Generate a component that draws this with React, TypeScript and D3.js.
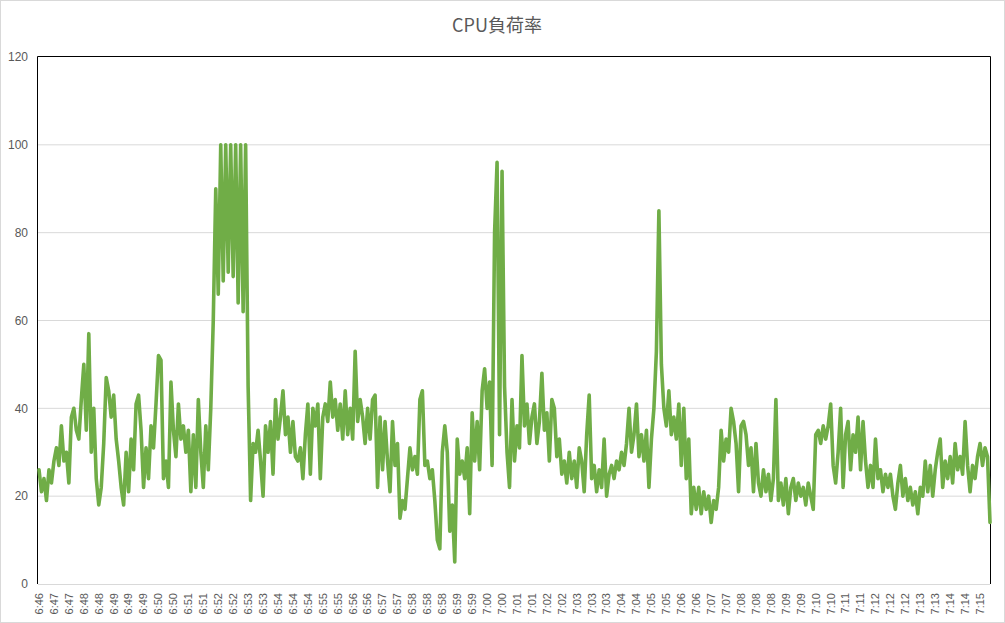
import React from "react";
import * as d3 from "d3";

const chartTitle = "CPU負荷率";

const yTicks = [0, 20, 40, 60, 80, 100, 120];

const tickLabels = [
  "6:46", "6:47", "6:47", "6:48", "6:48", "6:49", "6:49", "6:49", "6:50", "6:50",
  "6:51", "6:51", "6:52", "6:52", "6:53", "6:53", "6:54", "6:54", "6:54", "6:55",
  "6:55", "6:56", "6:56", "6:57", "6:57", "6:58", "6:58", "6:58", "6:59", "6:59",
  "7:00", "7:00", "7:01", "7:01", "7:02", "7:02", "7:03", "7:03", "7:03", "7:04",
  "7:04", "7:05", "7:05", "7:06", "7:06", "7:07", "7:07", "7:08", "7:08", "7:08",
  "7:09", "7:09", "7:10", "7:10", "7:11", "7:11", "7:12", "7:12", "7:12", "7:13",
  "7:13", "7:14", "7:14", "7:15",
];

const cpuLoad = [
  // 6:46 - 6:51
  26, 21, 24, 19, 26, 23, 28, 31, 27, 36,
  28, 30, 23, 38, 40, 35, 33, 42, 50, 35,
  57, 30, 40, 24, 18, 22, 32, 47, 44, 38,
  43, 33, 28, 22, 18, 30, 21, 33, 26, 41,
  43, 35, 22, 31, 24, 36, 31, 41, 52, 51,
  24, 28, 22, 46, 35, 29, 41, 33, 36, 30,
  35, 21, 34, 22, 42,
  // 6:51 - 6:56
  30, 22, 36, 26, 40, 60, 90, 66, 100, 69,
  100, 71, 100, 70, 100, 64, 100, 62, 100, 45,
  19, 32, 30, 35, 28, 20, 36, 30, 37, 25,
  42, 33, 38, 44, 34, 38, 30, 37, 29, 28,
  31, 24, 34, 41, 25, 40, 36, 41, 24, 38,
  41, 37, 46, 38, 42, 35, 41, 33, 44, 34,
  40, 33, 53, 37, 42,
  // 6:56 - 7:01
  38, 32, 40, 33, 42, 43, 22, 38, 26, 37,
  28, 21, 37, 27, 32, 15, 19, 17, 24, 31,
  26, 29, 25, 42, 44, 27, 28, 24, 26, 19,
  10, 8, 30, 36, 30, 12, 18, 5, 33, 25,
  28, 24, 31, 16, 39, 28, 37, 26, 44, 49,
  40, 46, 27, 80, 96, 34, 94, 45, 30, 22,
  42, 28, 36, 31,
  // 7:01 - 7:06
  52, 36, 41, 32, 38, 41, 32, 37, 48, 35,
  39, 28, 42, 40, 29, 33, 25, 28, 23, 30,
  24, 28, 22, 31, 28, 21, 34, 43, 24, 27,
  21, 26, 22, 33, 20, 25, 27, 24, 28, 26,
  30, 27, 32, 40, 30, 34, 41, 29, 34, 28,
  35, 22, 33, 40, 53, 85, 50, 40, 36, 44,
  34, 38, 33, 41, 27,
  // 7:06 - 7:11
  40, 24, 33, 16, 22, 17, 22, 16, 21, 17,
  20, 14, 19, 17, 22, 35, 28, 33, 30, 40,
  37, 32, 21, 36, 37, 34, 27, 31, 21, 32,
  23, 20, 26, 21, 25, 19, 24, 42, 19, 23,
  18, 24, 16, 22, 24, 19, 23, 20, 22, 18,
  23, 20, 17, 34, 35, 32, 36, 33, 36, 41,
  27, 23, 30, 40,
  // 7:11 - 7:15
  22, 34, 37, 26, 34, 30, 38, 26, 37, 28,
  22, 27, 22, 33, 24, 26, 21, 25, 22, 25,
  20, 17, 23, 27, 20, 24, 19, 22, 18, 21,
  16, 22, 20, 28, 21, 27, 20, 26, 30, 33,
  22, 28, 24, 29, 23, 32, 26, 29, 25, 37,
  27, 21, 27, 24, 29, 32, 27, 31, 29, 14,
];

const POINTS_PER_LABEL = 6;

export default function App() {
  const W = 1005;
  const H = 623;
  const left = 39;
  const right = 990;
  const top = 57;
  const bottom = 584;

  const x = d3.scaleLinear().domain([0, cpuLoad.length - 1]).range([left, right]);
  const y = d3.scaleLinear().domain([0, 120]).range([bottom, top]);

  const line = d3
    .line<number>()
    .x((_, i) => x(i))
    .y((d) => y(d));

  const pathD = line(cpuLoad) || "";
  const textColor = "#595959";
  const axisFont = "'Liberation Sans', Arial, sans-serif";

  return (
    <svg
      width={W}
      height={H}
      style={{ position: "absolute", left: 0, top: 0, background: "#fff" }}
    >
      <rect x={0.5} y={0.5} width={W - 1} height={H - 1} fill="#fff" stroke="#D9D9D9" />
      <text
        x={497}
        y={32}
        textAnchor="middle"
        fontSize={18}
        fill={textColor}
        fontFamily="'Noto Sans CJK JP', 'Noto Sans', sans-serif"
      >
        {chartTitle}
      </text>

      {yTicks.map((t) => (
        <g key={t}>
          {t > 0 && t < 120 && (
            <line x1={left - 1} x2={right} y1={y(t)} y2={y(t)} stroke="#D9D9D9" strokeWidth={1} />
          )}
          <text
            x={28}
            y={y(t)}
            dy="0.35em"
            textAnchor="end"
            fontSize={12}
            fill={textColor}
            fontFamily={axisFont}
          >
            {t}
          </text>
        </g>
      ))}

      <line x1={left - 1} x2={right} y1={bottom + 0.5} y2={bottom + 0.5} stroke="#D9D9D9" strokeWidth={1} />
      <path
        d={`M${left - 1.5},${bottom} V${top - 0.5} H${right + 0.5} V${bottom}`}
        fill="none"
        stroke="#000"
        strokeWidth={1}
      />

      <path
        d={pathD}
        fill="none"
        stroke="#70AD47"
        strokeWidth={3.6}
        strokeLinejoin="round"
        strokeLinecap="round"
      />

      {tickLabels.map((lab, k) => {
        const px = x(k * POINTS_PER_LABEL);
        return (
          <text
            key={k}
            transform={`translate(${px},593) rotate(-90)`}
            textAnchor="end"
            dy="0.35em"
            fontSize={11}
            fill={textColor}
            fontFamily={axisFont}
          >
            {lab}
          </text>
        );
      })}
    </svg>
  );
}
